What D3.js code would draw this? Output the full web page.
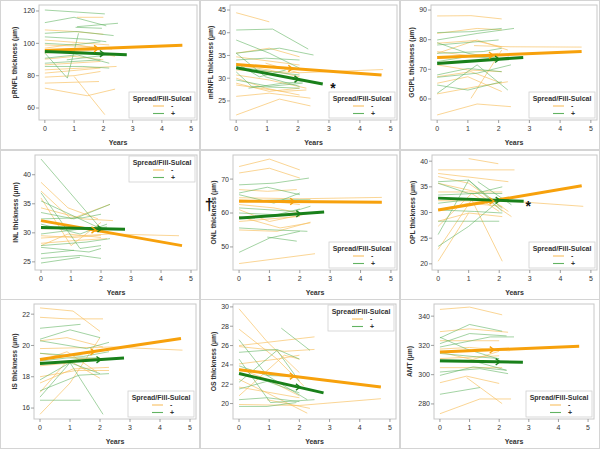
<!DOCTYPE html>
<html>
<head>
<meta charset="utf-8">
<script src="https://cdn.jsdelivr.net/npm/d3@7"></script>
<style>
body{margin:0;background:#fff}
text{font-family:"Liberation Sans",Arial,sans-serif}
</style>
</head>
<body>
<script>
// ---- data (years, thickness in µm) ----
var xTicks = [0,1,2,3,4,5];
var groups = ["-","+"];
var legendTitle = "Spread/Fill-Sulcal";

var prnflTicks = [60,80,100,120], prnflRange = [52.6,123.7];
var prnflFitMinus = [[0,95.5],[4.7,98.8]], prnflFitPlus = [[0,95],[2.8,93]];
var prnflMinus = [
 [[0,108.3],[1,107.3],[2,105.6]], [[1.1,116.1],[2,116.1]], [[0,102],[2.2,99]],
 [[0,99],[1.55,98],[2.3,96.4]], [[0,96],[1.8,94],[2.4,92]], [[0,94],[1.9,96]],
 [[0,90.2],[1,91.9],[2,89.8]], [[0,86.7],[1.9,88.8]], [[0,83.6],[2.45,85.7]],
 [[0,81.6],[1.9,84.7]], [[0,79.1],[1,80],[1.9,82.6]], [[0,75.4],[1.85,76.4]],
 [[0,72.3],[1.45,67.6],[2.4,71.7]], [[1,79.5],[2.05,55.9]], [[0,97],[1,99.5],[1.7,97]]
];
var prnflPlus = [
 [[0,120.6],[2.05,118.2]], [[0,112.8],[1,116.1],[2.1,110.8]], [[1.1,110.3],[2.5,112.4]],
 [[1.05,109.9],[1.95,109.3]], [[0,106.2],[1.1,107.3],[2.35,104.8]], [[0,104],[1.45,102.5],[2.1,101]],
 [[0,100],[1,99],[1.9,101]], [[0,94],[0.77,78.5],[1.15,106.2]], [[0,90.8],[1.1,92.9],[2.2,87.7]],
 [[0,85.7],[1.3,85.7],[2.2,84.7]], [[0,87.7],[1.9,89.8]], [[0.75,89.8],[2.2,92.9]]
];

var mrnflTicks = [25,30,35,40,45], mrnflRange = [20.8,46.1];
var mrnflFitMinus = [[0,33],[4.7,30.7]], mrnflFitPlus = [[0,32.3],[2.8,28.7]];
var mrnflMinus = [
 [[0,44.4],[1.07,42.4]], [[0,35.5],[1.07,36.6],[2.05,34.7]], [[0,34.7],[2.05,32.9]],
 [[0,32.9],[1.07,31.8],[2.05,30.3]], [[0,31.8],[2.05,31.2],[4.75,31.9]], [[0,30.7],[1.07,29.6],[2.27,27.8]],
 [[0,30],[0.95,27.8],[2.05,26.3]], [[0,28.9],[1.07,27.1],[2.05,27.8]], [[0,26],[1.07,26.7],[2.4,25.6]],
 [[0,21.9],[1.4,25.4],[2.4,23.9]], [[0,28.5],[1.5,27.1],[2.27,27.4]], [[0.95,33.3],[2.05,31.1]]
];
var mrnflPlus = [
 [[0,40.6],[1.18,40.8],[2.33,36.4]], [[0,38.4],[1.07,35.5],[2.05,32.2]], [[0,35.5],[1.4,36.6],[2.5,35.1]],
 [[0,34],[0.95,34.4],[2.05,34]], [[0,35.5],[0.95,30.3],[2.05,28.2]], [[0,32.5],[1.18,31.4],[2.05,30.7]],
 [[0,29.6],[1.07,28.2],[2.15,28.9]], [[0,31.4],[0.5,28.2],[2.05,27.8]], [[0.4,27.8],[1.5,28.9],[2.15,29.2]],
 [[0,33.3],[0.75,30.3],[1.6,31.8]]
];

var gciplTicks = [60,70,80,90], gciplRange = [52.9,91.7];
var gciplFitMinus = [[0,74],[4.7,76]], gciplFitPlus = [[0,72],[2.8,74]];
var gciplMinus = [
 [[0,88],[1.1,88.1],[2.1,87]], [[0,82.1],[1.3,83.8],[2.1,83.3]], [[0,78.8],[1.2,79.7],[2.1,77.6]],
 [[1.2,78],[2.4,77.6],[4.7,77.5]], [[0,75.4],[1.3,79.9],[2.3,76.5]], [[0,73.7],[2.1,74.8]],
 [[0,71.5],[1,69.8],[2.1,69.2]], [[0,67.5],[1.1,69.2],[2.1,65.3]], [[0,65.3],[1,67.5],[2.1,62.5]],
 [[0,61.7],[1.3,64.2],[2.3,65.8]], [[1.1,60.2],[2.1,76.5]], [[0,54.6],[1.3,58.3],[2.4,57.4]],
 [[0,76],[1.1,74.5],[2,75.4]]
];
var gciplPlus = [
 [[0,82.4],[1.1,82.7],[2.1,83.8]], [[0,79.9],[1.3,82.1],[2.5,83.8]], [[0,79],[1,75.4],[2,73.7]],
 [[0,75.4],[1.5,76],[2.1,77.1]], [[0,78.2],[2,79.9]], [[0,68.1],[1,70.3],[2.1,69.2]],
 [[0,67.3],[1.3,68.7],[2.4,71.5]], [[0,61.9],[1.3,71.5],[2.3,63]], [[0,64.7],[1,63],[2.1,65.8]],
 [[0,72.6],[1,74.3],[2,73.7]]
];

var inlTicks = [25,30,35,40], inlRange = [23.6,43.4];
var inlFitMinus = [[0,32.1],[4.7,27.8]], inlFitPlus = [[0,30.9],[2.8,30.6]];
var inlMinus = [
 [[0,38.7],[0.9,34.3],[1.9,32.4]], [[0,37.2],[1,32.4],[2.3,34.9]], [[0,36],[1,27.8],[2,31.8]],
 [[0,34.3],[1.4,32.4],[2.4,32.1]], [[0,32.1],[1,31.2],[2,30.1]], [[0,29.5],[1.1,29.2],[2,29.6]],
 [[0,29.1],[2.3,29.8],[4.6,29.5]], [[0,28.2],[1.2,28.7],[2.2,29]], [[0,30.7],[2,30.8]],
 [[0,27.8],[0.9,29.8],[2,29.2]]
];
var inlPlus = [
 [[0,42.7],[2,30.7]], [[0,36.9],[1.3,27.3],[2,27.8]], [[0,35.5],[2,30.7]],
 [[0,33.5],[1.1,32.4],[2.3,34.9]], [[0,32.4],[1.4,32.6],[2,33.2]], [[0,31.5],[1.3,29.8],[2.2,31.5]],
 [[0,27.5],[1.6,26.7],[2,27.3]], [[0,26.4],[1.1,27]], [[0,25.6],[1.3,26.1],[2,25.6]],
 [[0,24.8],[1.3,25.8]], [[0,27.8],[1.5,28.4],[2.3,29]], [[0,29.8],[1.4,30.7],[2.2,31]]
];

var onlTicks = [50,60,70], onlRange = [43.2,77.1];
var onlFitMinus = [[0,63.5],[4.7,63.2]], onlFitPlus = [[0,58.5],[2.8,60.3]];
var onlMinus = [
 [[0,73.7],[1,75.9],[2,72.7]], [[0,71.8],[1,73.2],[2,70.3]], [[0,66.9],[0.93,66.4],[1.9,66.9]],
 [[0,64.5],[2,64.2],[4.7,64.6]], [[0,62.5],[1.15,61.5],[2,60]], [[0,61],[1,57.5],[2.35,60]],
 [[0,59],[1.35,55.6],[2.35,57.1]], [[0,57.5],[2,59]], [[0,55],[1.25,54.6],[2.35,57.3]],
 [[0,45.1],[2.5,48]], [[0,63.9],[1.5,63],[2,62.5]]
];
var onlPlus = [
 [[0,68.3],[1.15,68.8],[2.3,70.3]], [[0,65.9],[0.93,67.6],[2,65.4]], [[0,65.4],[1.15,62.9],[2,65.9]],
 [[0,63.4],[1.4,63.9],[2.35,63.9]], [[0,61.5],[1.8,60.5],[2.35,62]], [[0,55.6],[0.93,55.1],[2.25,54.6]],
 [[0,48.4],[1,52.6],[2,54.6]], [[0.93,52.9],[1.9,51.7]], [[0,60],[1.25,59.5],[2,61.2]]
];

var oplTicks = [20,25,30,35,40], oplRange = [18.8,41.2];
var oplFitMinus = [[0,30.5],[4.7,35.2]], oplFitPlus = [[0,32.8],[2.8,32.2]];
var oplMinus = [
 [[1,40.5],[1.97,39.5]], [[0,38.3],[2.5,38.3]], [[0,37.6],[2.3,36]],
 [[0,37],[1,35.7],[2.3,30.2]], [[0,35.7],[1.2,34.1],[2.4,29.2]], [[0,34],[1,34],[2.1,34]],
 [[0,30.5],[1,31.8],[2.1,31.2]], [[0,22.8],[1.1,32.5],[2.1,20.5]], [[0,20.5],[1,29.9]],
 [[0,27.3],[1.1,33.7],[2,30.2]], [[0,32.3],[2.4,32.2],[4.75,31.2]], [[0,28.3],[1,29.9],[2.1,29.2]]
];
var oplPlus = [
 [[0,35.7],[1,33.7],[2.1,33.7]], [[0,36],[1,36.3],[2.1,30.2]], [[0,25.7],[1,36.3],[2.1,30.8]],
 [[0,23.4],[1,27.3],[2.1,32.8]], [[0,30.5],[1.2,30.2],[2.1,29.9]], [[0,33.4],[1.2,33.7],[2.1,35]],
 [[1.3,36],[2.4,31.5]], [[0,28.3],[2,28.3]], [[0,31.8],[1,32.5],[2,32.1]]
];

var isTicks = [16,18,20,22], isRange = [15.3,22.65];
var isFitMinus = [[0,19.1],[4.7,20.45]], isFitPlus = [[0,18.85],[2.8,19.2]];
var isMinus = [
 [[0,22.4],[1.1,22.2],[2,20.9]], [[0,21.8],[0.9,21.7],[2.1,21.7]], [[0,20.3],[0.9,20.5],[2.1,19.9]],
 [[0,19.8],[2.4,19.9],[4.75,19.7]], [[0,19.5],[1.2,19.2],[2,19.1]], [[0,19],[0.9,19.6],[1.9,18.3]],
 [[0,18.7],[1.1,18.9],[2,17.9]], [[0,18],[1.2,18.4],[2.3,18.4]], [[0,17],[0.9,19],[2,19.2]],
 [[0,15.6],[1,17.6],[2,20.5]], [[0,17.6],[1.1,18.5],[2.3,18.6]]
];
var isPlus = [
 [[0,21.1],[1.35,21.35]], [[0,20.4],[1,21],[2,20.5]], [[0,20.3],[1.55,19.8],[2.3,20.2]],
 [[0,19.5],[1.45,19.3],[2.3,19.6]], [[0,17.8],[1,18.9],[2.1,15.6]], [[0,16.7],[1,18.9],[2,18.2]],
 [[0,16.5],[1.35,16.5]], [[0,17.1],[1.3,18.1],[2.3,18.2]], [[0,19],[0.9,19.2],[2,19.2]]
];

var osTicks = [20,22,24,26,28,30], osRange = [18.4,30.3];
var osFitMinus = [[0,23.5],[4.7,21.7]], osFitPlus = [[0,23.1],[2.8,21.1]];
var osMinus = [
 [[0,29.8],[0.93,26.4],[2,23.2]], [[0,27.7],[1.26,24.6],[2.15,21.8]], [[0,26],[2.5,26.9]],
 [[0,25.9],[1.5,25.4],[2.5,25.6]], [[0,24.1],[1.26,24.6],[2,25]], [[0,23.6],[0.93,22.5],[2,20.8]],
 [[0,20.8],[1.5,25],[2,24.6]], [[0,21.7],[2,20.6]], [[0,19.9],[2,19.8],[4.7,20.5]],
 [[0,22.5],[0.93,21.1],[2.26,19]], [[0.93,20.4],[2.35,19.5]]
];
var osPlus = [
 [[0,26.6],[0.93,22.9],[2,22.8]], [[1.4,27.8],[2.35,25.5]], [[0,25.3],[1.26,25.6],[2,24.6]],
 [[0,22.2],[1.26,25.5],[2,22.3]], [[0,21.5],[0.93,22.3],[2,21.1]], [[0,20.4],[0.93,20.6],[2,20.2]],
 [[0,19.7],[0.93,19.7],[1.9,20.1]], [[0,23.9],[0.93,22.9],[2.26,20.4]], [[0,24.6],[1.04,20.1],[2.5,20.4]]
];

var amtTicks = [280,300,320,340], amtRange = [269.7,348.3];
var amtFitMinus = [[0,315.5],[4.7,319.5]], amtFitPlus = [[0,309.5],[2.8,308.5]];
var amtMinus = [
 [[0,344.6],[1,346.2],[2.1,340.9]], [[0,329.4],[1,331.3],[2.3,329]], [[0,323.2],[2,323.2]],
 [[0,317.5],[1,318.6],[2.35,316.3]], [[0,311],[2,312.9]], [[0,304.8],[2.1,304.8]],
 [[0,294.5],[0.9,299],[2,294]], [[0,273.3],[1.35,283.4],[2.4,283.4]], [[0.9,298],[2.1,280.2]],
 [[0,315.4],[1.1,310.3],[2,316]]
];
var amtPlus = [
 [[0,325.1],[1,334.3],[2.1,329.7]], [[0,321.2],[1,328.1],[2.25,326.5]], [[0,318.9],[1.7,325.8],[2.5,325.8]],
 [[0,325.6],[0.9,317.5],[2,310.6]], [[0,308.7],[1.24,308.7],[2.25,303]], [[0,301.8],[1.35,304.1],[2.3,300.7]],
 [[0,286.6],[1.35,291.2]], [[0,299.5],[1.12,305.3],[2.25,303]], [[0,314.5],[1.24,312.2],[2,311]]
];

// significance marks: panel index, symbol, year, value
var notes = [
 {p:1, s:"*", t:3.13, v:28.7},
 {p:4, s:"\u2020", t:-0.98, v:62.6},
 {p:5, s:"*", t:2.95, v:31.9}
];

var panels = [
 {label:"pRNFL thickness (\u00b5m)", ticks:prnflTicks, range:prnflRange, minus:prnflMinus, plus:prnflPlus, fm:prnflFitMinus, fp:prnflFitPlus},
 {label:"mRNFL thickness (\u00b5m)", ticks:mrnflTicks, range:mrnflRange, minus:mrnflMinus, plus:mrnflPlus, fm:mrnflFitMinus, fp:mrnflFitPlus},
 {label:"GCIPL thickness (\u00b5m)", ticks:gciplTicks, range:gciplRange, minus:gciplMinus, plus:gciplPlus, fm:gciplFitMinus, fp:gciplFitPlus},
 {label:"INL thickness (\u00b5m)", ticks:inlTicks, range:inlRange, minus:inlMinus, plus:inlPlus, fm:inlFitMinus, fp:inlFitPlus},
 {label:"ONL thickness (\u00b5m)", ticks:onlTicks, range:onlRange, minus:onlMinus, plus:onlPlus, fm:onlFitMinus, fp:onlFitPlus},
 {label:"OPL thickness (\u00b5m)", ticks:oplTicks, range:oplRange, minus:oplMinus, plus:oplPlus, fm:oplFitMinus, fp:oplFitPlus},
 {label:"IS thickness (\u00b5m)", ticks:isTicks, range:isRange, minus:isMinus, plus:isPlus, fm:isFitMinus, fp:isFitPlus},
 {label:"OS thickness (\u00b5m)", ticks:osTicks, range:osRange, minus:osMinus, plus:osPlus, fm:osFitMinus, fp:osFitPlus},
 {label:"AMT (\u00b5m)", ticks:amtTicks, range:amtRange, minus:amtMinus, plus:amtPlus, fm:amtFitMinus, fp:amtFitPlus}
];

// ---- layout ----
var cellX = [0,200,400], cellY = [0,150,299];
var frameLeft = [39,30,31,35,33,32,34,33,34];
var frameRight = [197,197,197,197,197,197,196,196,194];
var frameTop = 5, frameBottom = 120;
var legendAtTop = [false,false,false,true,false,false,false,true,false];

var thinOrange = "#f7c061", thinGreen = "#62b362";
var fitOrange = "#f7a10c", fitGreen = "#19801a";
var textCol = "#333";

var svg = d3.select("body").append("svg")
  .attr("width",600).attr("height",449);

svg.append("rect").attr("width",600).attr("height",449).attr("fill","#fff");

panels.forEach(function(p,i){
  var col = i%3, row = Math.floor(i/3);
  var g = svg.append("g").attr("transform","translate("+cellX[col]+","+cellY[row]+")");
  var L = frameLeft[i], R = frameRight[i];

  // cell border
  g.append("rect").attr("x",0.5).attr("y",0.5)
    .attr("width",199).attr("height",149)
    .attr("fill","none").attr("stroke","#d4d4d4");

  var x = d3.scaleLinear().domain([-0.2,5.2]).range([L,R]);
  var y = d3.scaleLinear().domain(p.range).range([frameBottom,frameTop]);

  var clipId = "clip"+i;
  g.append("clipPath").attr("id",clipId).append("rect")
    .attr("x",L).attr("y",frameTop).attr("width",R-L).attr("height",frameBottom-frameTop);

  var line = d3.line().x(function(d){return x(d[0]);}).y(function(d){return y(d[1]);});
  var plot = g.append("g").attr("clip-path","url(#"+clipId+")");

  plot.selectAll("path.minus").data(p.minus).enter().append("path")
    .attr("class","minus").attr("d",line)
    .attr("fill","none").attr("stroke",thinOrange).attr("stroke-width",0.9).attr("stroke-opacity",0.75);
  plot.selectAll("path.plus").data(p.plus).enter().append("path")
    .attr("class","plus").attr("d",line)
    .attr("fill","none").attr("stroke",thinGreen).attr("stroke-width",0.9).attr("stroke-opacity",0.65);

  // fitted lines
  plot.append("path").datum(p.fm).attr("d",line)
    .attr("fill","none").attr("stroke",fitOrange).attr("stroke-width",3);
  plot.append("path").datum(p.fp).attr("d",line)
    .attr("fill","none").attr("stroke",fitGreen).attr("stroke-width",3);

  // little arrow heads on the fitted lines
  [[p.fm,1.75,fitOrange],[p.fp,1.95,fitGreen]].forEach(function(a){
    var f = a[0], t = a[1];
    var v = f[0][1] + (f[1][1]-f[0][1])*(t-f[0][0])/(f[1][0]-f[0][0]);
    plot.append("path")
      .attr("transform","translate("+x(t)+","+y(v)+")")
      .attr("d","M-2,-3.2L2.2,0L-2,3.2")
      .attr("fill","none").attr("stroke",a[2]).attr("stroke-width",1.4);
  });

  // frame
  g.append("rect").attr("x",L).attr("y",frameTop)
    .attr("width",R-L).attr("height",frameBottom-frameTop)
    .attr("fill","none").attr("stroke","#c8c8c8").attr("stroke-width",1);

  // y axis
  p.ticks.forEach(function(t){
    g.append("line").attr("x1",L-3).attr("x2",L).attr("y1",y(t)).attr("y2",y(t))
      .attr("stroke","#888").attr("stroke-width",0.8);
  });
  g.selectAll("text.yt").data(p.ticks).enter().append("text")
    .attr("class","yt").attr("x",L-4).attr("y",function(d){return y(d);})
    .attr("dy","0.35em").attr("text-anchor","end")
    .attr("font-size",7).attr("fill",textCol).text(function(d){return d;});

  // x axis
  xTicks.forEach(function(t){
    g.append("line").attr("x1",x(t)).attr("x2",x(t)).attr("y1",frameBottom).attr("y2",frameBottom+3)
      .attr("stroke","#888").attr("stroke-width",0.8);
  });
  g.selectAll("text.xt").data(xTicks).enter().append("text")
    .attr("class","xt").attr("x",function(d){return x(d);}).attr("y",frameBottom+11)
    .attr("text-anchor","middle").attr("font-size",7).attr("fill",textCol).text(function(d){return d;});

  g.append("text").attr("x",(L+R)/2).attr("y",frameBottom+25)
    .attr("text-anchor","middle").attr("font-size",7).attr("font-weight","bold")
    .attr("fill",textCol).text("Years");

  var maxChars = d3.max(p.ticks,function(d){return String(d).length;});
  var ty = (frameTop+frameBottom)/2, tx = L - 9 - maxChars*5;
  g.append("text").attr("transform","translate("+tx+","+ty+") rotate(-90)")
    .attr("text-anchor","middle").attr("dy","0.35em")
    .attr("font-size",6.8).attr("font-weight","bold").attr("fill",textCol).text(p.label);

  // legend
  var lw = 66, lh = 26;
  var lx = R - 2 - lw;
  var ly = legendAtTop[i] ? frameTop + 1 : frameBottom - 2 - lh;
  var lg = g.append("g").attr("transform","translate("+lx+","+ly+")");
  lg.append("rect").attr("width",lw).attr("height",lh)
    .attr("fill","#fff").attr("stroke","#d0d0d0").attr("stroke-width",0.8);
  lg.append("text").attr("x",lw/2).attr("y",8.5).attr("text-anchor","middle")
    .attr("font-size",7).attr("font-weight","bold").attr("fill",textCol).text(legendTitle);
  groups.forEach(function(gr,k){
    var yy = 14 + k*7.5;
    lg.append("line").attr("x1",24).attr("x2",35).attr("y1",yy).attr("y2",yy)
      .attr("stroke",k==0 ? thinOrange : thinGreen).attr("stroke-width",1.1);
    lg.append("text").attr("x",42).attr("y",yy).attr("dy","0.35em")
      .attr("font-size",7).attr("font-weight","bold").attr("fill",textCol).text(gr);
  });

  // significance marks
  notes.filter(function(n){return n.p==i;}).forEach(function(n){
    var star = n.s=="*";
    g.append("text").attr("x",x(n.t)).attr("y",y(n.v))
      .attr("dy",star ? "0.62em" : "0.38em")
      .attr("text-anchor","middle").attr("font-size",star ? 14 : 16).attr("font-weight","bold")
      .attr("fill","#111").attr("stroke",star ? "none" : "#fff").attr("stroke-width",star ? 0 : 0.6)
      .attr("paint-order","stroke").text(n.s);
  });
});
</script>
</body>
</html>
